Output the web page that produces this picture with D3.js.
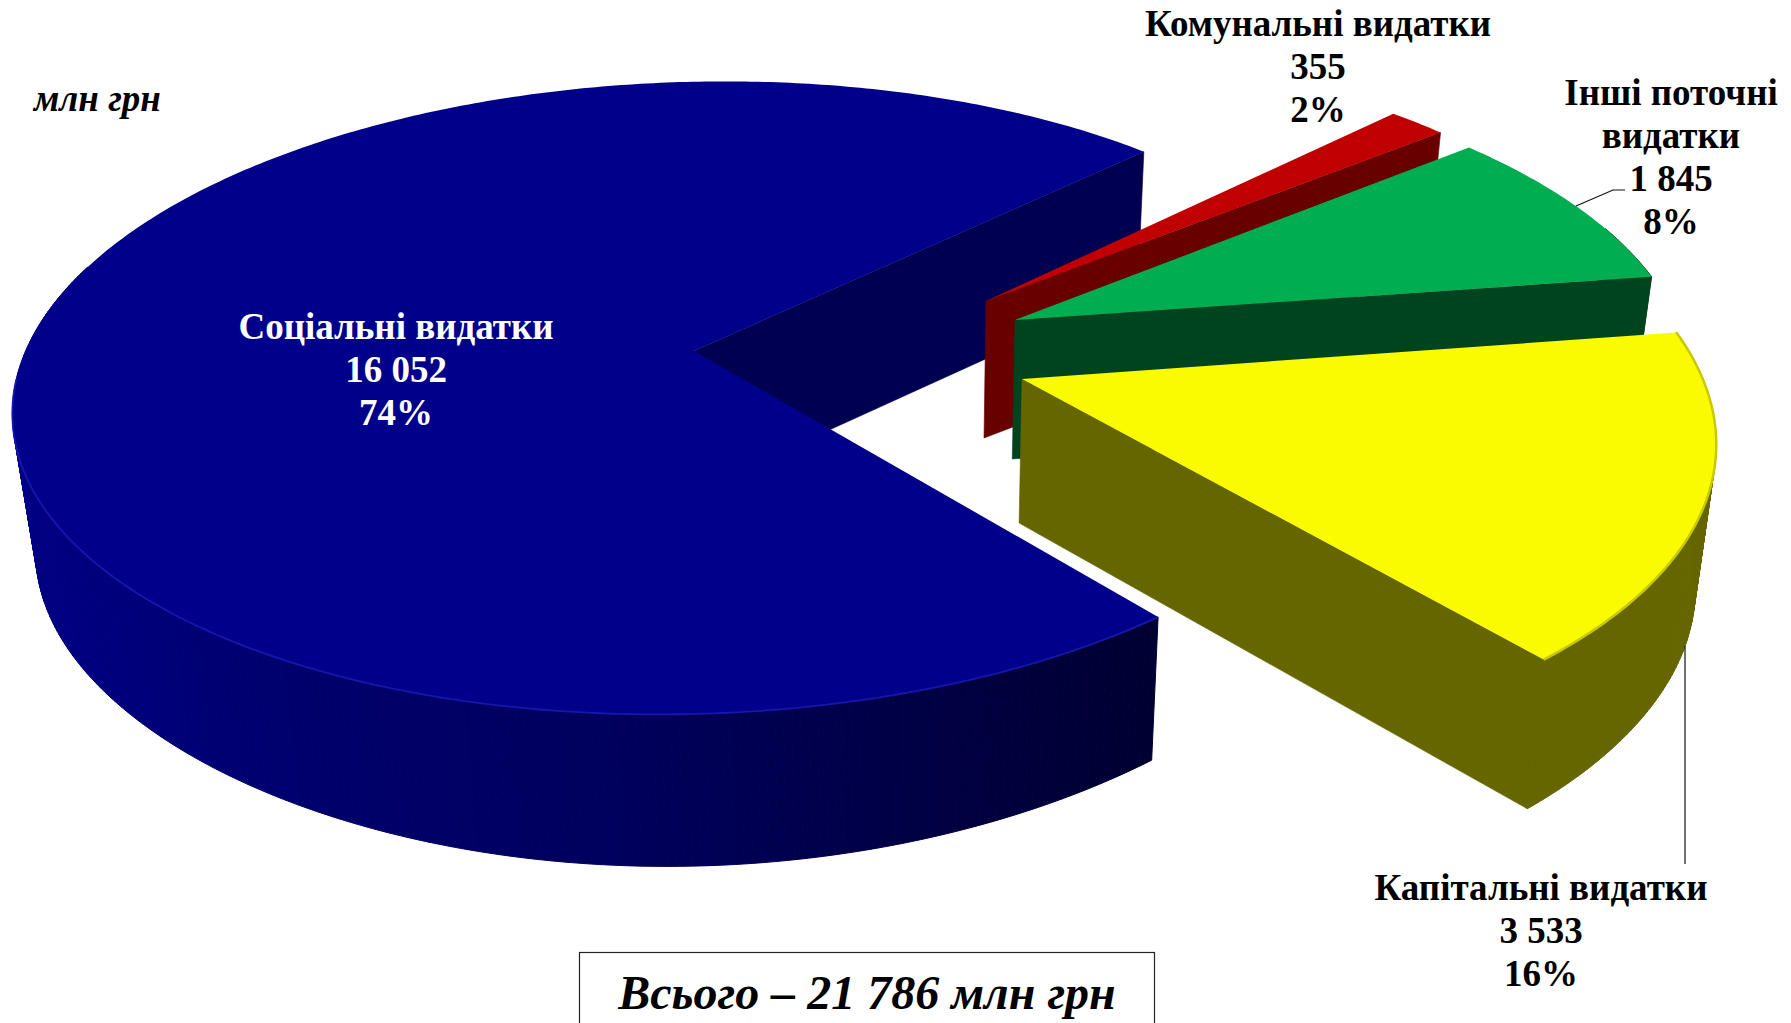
<!DOCTYPE html>
<html><head><meta charset="utf-8">
<script src="https://cdn.jsdelivr.net/npm/d3@7/dist/d3.min.js"></script>
<style>html,body{margin:0;padding:0;background:#fff;overflow:hidden}svg{display:block}
text{font-family:"Liberation Serif","Times New Roman",serif;font-weight:bold}</style>
</head><body><div id="chart"></div>
<script>
// ---- data ----
const categories = ["Соціальні видатки","Комунальні видатки","Інші поточні видатки","Капітальні видатки"];
const values = [16052, 355, 1845, 3533];
const percents = ["74%","2%","8%","16%"];
const valueLabels = ["16 052","355","1 845","3 533"];
const unitLabel = "млн грн";
const totalLabel = "Всього – 21 786 млн грн";

// ---- layout / style ----
const W=1791,H=1023;
const topColors=["#00008b","#c00000","#00ad50","#fbfb00"];
const wallColors=["#000050","#680000","#00441f","#666600"];
const apexPx=[[694,351],[986,301],[1015,320],[1022,379]];
const rimRadius=[0.995,0.995,0.99,0.99];
const rimRotate=[-0.4,0,0,0];
const depth=[138,137,139,144];
const shearX=[-0.05,0,0,0];
const shearY=[-0.012,-0.008,-0.012,-0.012];
const scaleY=[1,1,1,1.025];
const labelLines=[
 {lines:[categories[0],valueLabels[0],percents[0]],x:396,y:339,fill:"#fff"},
 {lines:[categories[1],valueLabels[1],percents[1]],x:1318,y:36,fill:"#000"},
 {lines:["Інші поточні","видатки",valueLabels[2],percents[2]],x:1671,y:105,fill:"#000"},
 {lines:[categories[3],valueLabels[3],percents[3]],x:1541,y:900,fill:"#000"}];

const ox=694,oy=351,R=675,Rt=311,k=0.149,vx=910,g=0.974;
const toScreen=(X,Y)=>{const d=1-k*Y;return [ox+R*X/d,oy+Rt*Y/d];};
const toPlane=([sx,sy])=>{const u=(sx-ox)/R,v=(sy-oy)/Rt,Y=v/(1+k*v);return [u*(1-k*Y),Y];};
const drop=(p,h,Y)=>[vx+(p[0]-vx)*g,p[1]+h+(Y>0?14*Math.pow(Y,4):0)];

const svg=d3.select("#chart").append("svg").attr("width",W).attr("height",H);
const line=d3.line();
const pie=d3.pie().sort(null).startAngle(141.4*Math.PI/180).endAngle((141.4+360)*Math.PI/180);
const arcs=pie(values);
const blueShade=d3.scaleLinear().domain([30,300,600,1000,1160]).range(["#000082","#00006c","#00005e","#00003e","#000032"]);

arcs.forEach((a,i)=>{
  const g0=svg.append("g");
  const c=toPlane(apexPx[i]),r=rimRadius[i],A=apexPx[i];
  const n=Math.max(12,Math.round((a.endAngle-a.startAngle)*90));
  const rot=rimRotate[i]*Math.PI/180;
  const phis=d3.range(n+1).map(j=>a.startAngle+(a.endAngle-a.startAngle)*j/n-Math.PI/2+rot);
  const topPt=phi=>{
    const s=toScreen(c[0]+r*Math.cos(phi),c[1]+r*Math.sin(phi));
    const dx=s[0]-A[0],dy=s[1]-A[1];
    return [A[0]+dx+shearX[i]*dy, A[1]+dy*scaleY[i]+shearY[i]*dx];
  };
  const botPt=phi=>drop(topPt(phi),depth[i],Math.sin(phi));
  const apexTop=A,apexBot=drop(apexTop,depth[i],0);
  // outer wall, one facet per step, only where it faces the viewer
  for(let j=0;j<n;j++){
    if(Math.sin(phis[j])<-0.3) continue;
    const q=[topPt(phis[j]),topPt(phis[j+1]),botPt(phis[j+1]),botPt(phis[j])];
    const col=i===0?blueShade((q[0][0]+q[1][0])/2):wallColors[i];
    g0.append("path").attr("d",line(q)+"Z").attr("fill",col).attr("stroke",col).attr("stroke-width",1);
  }
  // radial wall facing the viewer: the clockwise end of each slice
  const ph=phis[n];
  g0.append("path").attr("d",line([apexTop,topPt(ph),botPt(ph),apexBot])+"Z").attr("fill",wallColors[i]).attr("stroke",wallColors[i]).attr("stroke-width",0.6);
  // top face
  g0.append("path").attr("d",line([apexTop,...phis.map(topPt)])+"Z").attr("fill",topColors[i]);
  // bevel
  if(i===0){
    g0.append("path").attr("d",line(phis.filter(p=>p<Math.PI*0.98).map(topPt))).attr("fill","none").attr("stroke","#1a1ab4").attr("stroke-width",1.8).attr("opacity",.85);
  }
  if(i===3){
    g0.append("path").attr("d",line(phis.filter(p=>p>0.12).map(topPt))).attr("fill","none").attr("stroke","#c8c800").attr("stroke-width",2.5);
  }
});

// leader lines
const leaders=[[[1576,206],[1613,190],[1625,190]],[[1685,646],[1685,864]]];
svg.selectAll("path.leader").data(leaders).join("path").attr("class","leader")
  .attr("d",line).attr("fill","none").attr("stroke","#111").attr("stroke-width",1.2);

// labels
const fs=37,lh=43;
labelLines.forEach(l=>{
  const t=svg.append("text").attr("text-anchor","middle").attr("font-size",fs).attr("fill",l.fill);
  l.lines.forEach((s,j)=>t.append("tspan").attr("x",l.x).attr("y",l.y+j*lh).text(s));
});
svg.append("text").attr("x",34).attr("y",111).attr("font-size",37).attr("font-style","italic").text(unitLabel);

// total box
svg.append("rect").attr("x",579.5).attr("y",952.5).attr("width",575).attr("height",90).attr("fill","#fff").attr("stroke","#222").attr("stroke-width",1.2);
svg.append("text").attr("x",867).attr("y",1009).attr("text-anchor","middle").attr("font-size",48).attr("font-style","italic").text(totalLabel);
</script></body></html>
